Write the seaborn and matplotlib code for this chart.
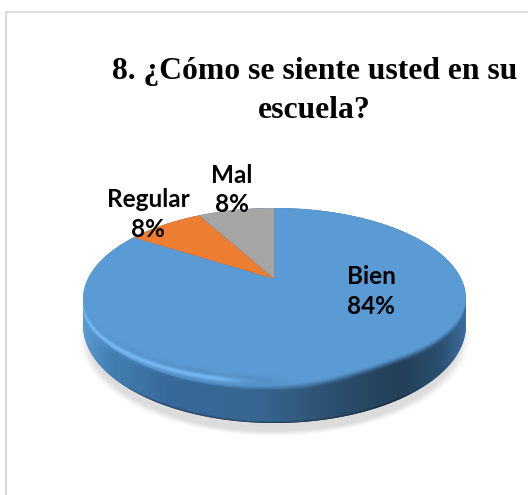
import matplotlib
matplotlib.use('Agg')
import matplotlib.pyplot as plt
from matplotlib.patches import Polygon
from matplotlib.transforms import Transform
import numpy as np
import seaborn as sns

# Chart data
categories = ['Bien', 'Regular', 'Mal']
values = [84, 8, 8]
title = '8. ¿Cómo se siente usted en su\nescuela?'
slice_colors = ['#5B9BD5', '#ED7D31', '#A5A5A5']

W, H = 528, 495
APEX = (274.5, 279.0)
A, B, M = 186.8, 86.6, 0.2197   # perspective of the disc
CX, RX = 274.5, 191.5
TOP_CY, TOP_RY = 299.0, 91.0    # outline of the top face
BASE_CY, BASE_RY = 325.0, 98.0  # outline of the base
RIDGE_CY, RIDGE_RY = 303.0, 79.0


class Perspective(Transform):
    """Tilts the unit pie disc, the far side gets shorter"""
    input_dims = 2
    output_dims = 2

    def transform_non_affine(self, pts):
        pts = np.asarray(pts, dtype=float)
        w = 1 + M * pts[:, 1]
        return np.column_stack((APEX[0] + A * pts[:, 0] / w,
                                APEX[1] - B * pts[:, 1] / w))


def hex_rgb(c):
    return np.array(matplotlib.colors.to_rgb(c))


def ramp(x, stops, colors):
    return np.stack([np.interp(x, stops, [hex_rgb(c)[i] for c in colors]) for i in range(3)], axis=-1)


def smooth(t):
    t = np.clip(t, 0, 1)
    return t * t * (3 - 2 * t)


sns.set_theme(style='white')
fig = plt.figure(figsize=(W / 100, H / 100), dpi=100, facecolor='white')
ax = fig.add_axes([0, 0, 1, 1])

xx, yy = np.meshgrid(np.arange(W) + 0.5, np.arange(H) + 0.5)
extent = (0, W, H, 0)
theta = np.linspace(0, np.pi, 181)
outline = np.vstack((
    np.column_stack((CX + RX * np.cos(theta), BASE_CY + BASE_RY * np.sin(theta))),
    np.column_stack((CX - RX * np.cos(theta), TOP_CY - TOP_RY * np.sin(theta))),
))

# soft ground shadow
sr = np.sqrt(((xx - CX) / 197) ** 2 + ((yy - 338) / 99) ** 2)
shadow = np.zeros((H, W, 4))
shadow[..., :3] = hex_rgb('#dcdcdc')
shadow[..., 3] = smooth((1.0 - sr) / 0.07)
ax.imshow(shadow, extent=extent, zorder=0, aspect='auto')

# side wall of the disc
wall_rgb = ramp(xx, [83, 110, 170, 260, 340, 400, 440, 466],
                ['#5b9bd5', '#437fb3', '#38699a', '#376690', '#2b4e6c', '#243f58', '#2a4f70', '#3b6d9c'])
dr = np.sqrt(((xx - CX) / RX) ** 2 + ((yy - BASE_CY) / BASE_RY) ** 2)
wall_rgb = wall_rgb * (1 - 0.3 * smooth((dr - 0.975) / 0.025) * smooth((yy - 380) / 25))[..., None]
wall = ax.imshow(wall_rgb, extent=extent, zorder=1, aspect='auto')
wall.set_clip_path(Polygon(outline, transform=ax.transData))

# top of the pie
palette = sns.color_palette(slice_colors)
wedges, _ = ax.pie(values, colors=palette, startangle=90, counterclock=False, radius=1,
                   wedgeprops={'linewidth': 0, 'zorder': 2})
persp = Perspective()
for w in wedges:
    w.set_transform(persp + ax.transData)
    w.set_clip_on(False)

# bevel: wall fades in under the ridge, light streak on the left part of the ridge
dx = np.clip((xx - CX) / RX, -1, 1)
ridge_y = RIDGE_CY + RIDGE_RY * np.sqrt(1 - dx ** 2)
yoff = yy - ridge_y
right = smooth((xx - 280) / 120)
wall_a = smooth((yoff - 1 + 9 * right) / 9)
glow = np.exp(-(yoff / 4.5) ** 2) * smooth((300 - xx) / 90) * smooth((yy - 290) / 20)
bevel = np.zeros((H, W, 4))
glow_rgb = hex_rgb('#74b8f4')
bevel[..., :3] = wall_rgb * (1 - glow[..., None]) + glow_rgb * glow[..., None]
bevel[..., 3] = np.maximum(wall_a, glow)
bevel[yy < 270] = 0
bv = ax.imshow(bevel, extent=extent, zorder=3, aspect='auto')
bv.set_clip_path(Polygon(outline, transform=ax.transData))

ax.set_aspect('auto')
ax.set_xlim(0, W)
ax.set_ylim(H, 0)
ax.axis('off')

# chart area border, only left and top show
ax.plot([6, 6, W], [H, 11.5, 11.5], color='#dcdcdc', lw=1.6, zorder=4, solid_joinstyle='miter')

ax.text(314.5, 91, title, ha='center', va='center', family='Liberation Serif', weight='bold',
        fontsize=22.8, color='black', linespacing=1.42, zorder=6)

label_pos = [(371, 291.5), (148, 214.5), (232, 190)]
for cat, val, (lx, ly) in zip(categories, values, label_pos):
    ax.text(lx, ly, f'{cat}\n{val}%', ha='center', va='center', family='Lato', weight='bold',
            fontsize=17.5, color='black', linespacing=1.33, zorder=6)

plt.savefig('out.png', dpi=100)
plt.close()
